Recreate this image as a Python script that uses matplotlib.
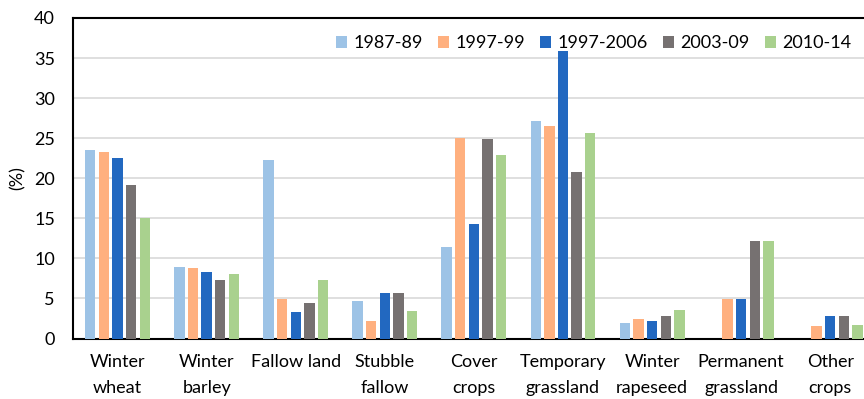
import numpy as np
import matplotlib
matplotlib.use("Agg")
import matplotlib.pyplot as plt

categories = ["Winter\nwheat", "Winter\nbarley", "Fallow land", "Stubble\nfallow",
              "Cover\ncrops", "Temporary\ngrassland", "Winter\nrapeseed",
              "Permanent\ngrassland", "Other\ncrops"]
periods = ["1987-89", "1997-99", "1997-2006", "2003-09", "2010-14"]

v_1987_89 = [23.5, 8.9, 22.3, 4.7, 11.4, 27.2, 1.9, 0.0, 0.0]
v_1997_99 = [23.3, 8.85, 4.9, 2.2, 25.05, 26.5, 2.4, 4.9, 1.5]
v_1997_2006 = [22.5, 8.3, 3.3, 5.7, 14.25, 35.9, 2.2, 4.9, 2.85]
v_2003_09 = [19.2, 7.3, 4.4, 5.7, 24.9, 20.75, 2.8, 12.2, 2.8]
v_2010_14 = [15.1, 8.1, 7.3, 3.4, 22.9, 25.7, 3.6, 12.2, 1.7]

series = [v_1987_89, v_1997_99, v_1997_2006, v_2003_09, v_2010_14]
colors = ["#9DC3E6", "#FFB07F", "#2268C0", "#767171", "#A9D18E"]

plt.rcParams['font.family'] = ['Lato', 'DejaVu Sans']

fig = plt.figure(figsize=(8.64, 3.99), dpi=100)
ax = fig.add_axes([0.0845, 0.1516, 0.928, 0.8033])

x = np.arange(len(categories))
pitch = 0.153
width = 0.116
for i, (vals, lab, c) in enumerate(zip(series, periods, colors)):
    ax.bar(x + (i - 2) * pitch, vals, width, color=c, label=lab, zorder=3)

ax.set_xlim(-0.5, len(categories) - 0.5)
ax.set_ylim(0, 40)
ax.set_yticks(range(0, 41, 5))
ax.yaxis.grid(True, color="#D9D9D9", lw=1.2, zorder=0)
ax.tick_params(axis='y', length=0, labelsize=13, pad=13)
ax.tick_params(axis='x', length=0, labelsize=13, pad=11)
ax.set_xticks(x)
ax.set_xticklabels(categories, linespacing=1.8)
for s in ["left", "bottom", "top"]:
    ax.spines[s].set_color("black")
    ax.spines[s].set_linewidth(1.5)
ax.spines["right"].set_visible(False)
ax.set_ylabel("(%)", fontsize=13, labelpad=6)

fig.legend(loc="upper center", bbox_to_anchor=(0.687, 0.952), ncol=5, frameon=False,
           fontsize=13, handlelength=0.6, handleheight=0.6, handletextpad=0.35,
           columnspacing=0.85)

fig.savefig("out.png", dpi=100)
